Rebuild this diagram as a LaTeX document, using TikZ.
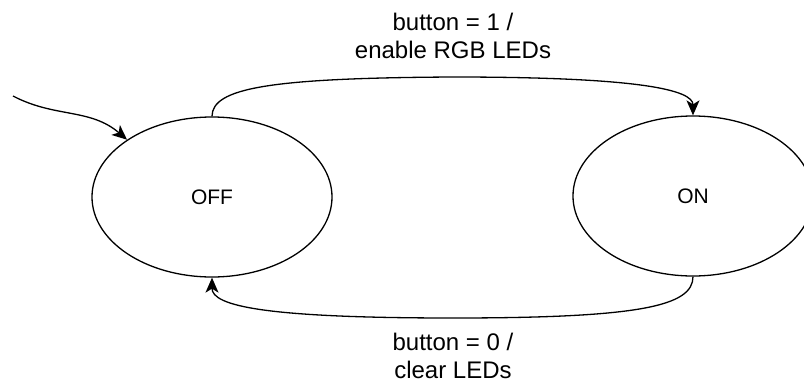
\documentclass[tikz,border=0pt]{standalone}
\usepackage{fontspec}
\setmainfont{Liberation Sans}
\usetikzlibrary{shapes.geometric,arrows.meta}
\begin{document}
\begin{tikzpicture}[x=1pt,y=-1pt,
  state/.style={draw,ellipse,line width=1.3pt,minimum width=240pt,minimum height=160pt,inner sep=0pt,font=\fontsize{21}{25}\selectfont},
  edge/.style={line width=1.3pt,-{Stealth[length=15pt,width=13pt,inset=4pt]}},
  lbl/.style={align=center,font=\fontsize{24}{28}\selectfont,inner sep=0pt}]
\useasboundingbox (0,0) rectangle (804,383);
\clip (0,0) rectangle (804,383);
\node[state] (OFF) at (212,197) {OFF};
\node[state] (ON) at (693,196) {ON};
\coordinate (init) at (13,96);
\draw[edge] (init) .. controls (55,118) and (90,108) .. (OFF.146);
\draw[edge] (OFF.north) .. controls (212,88) and (270,78) .. (453,77) .. controls (640,77) and (693,90) .. (ON.north);
\draw[edge] (ON.south) .. controls (693,306) and (640,318) .. (453,318) .. controls (265,318) and (212,306) .. (OFF.south);
\node[lbl] (t1) at (453,36) {button = 1 /\\enable RGB LEDs};
\node[lbl] (t2) at (453,356) {button = 0 /\\clear LEDs};
\end{tikzpicture}
\end{document}
